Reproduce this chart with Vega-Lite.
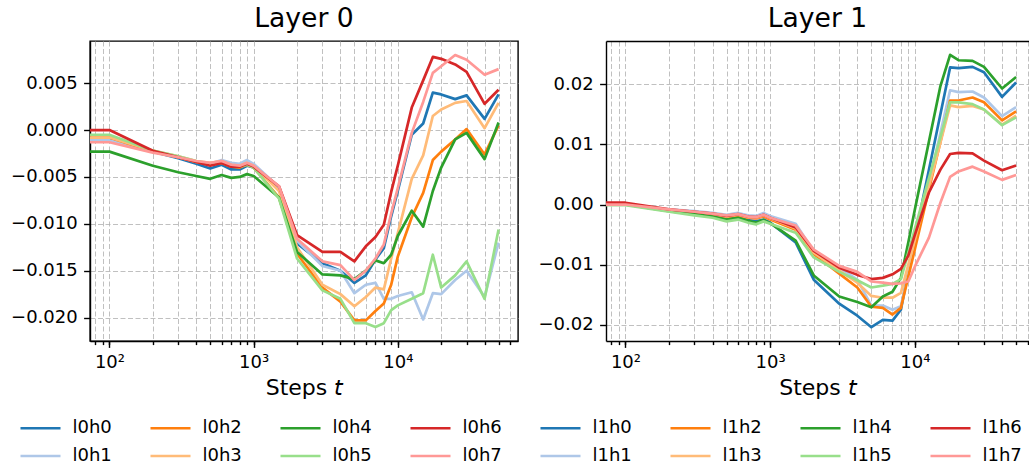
{
"$schema": "https://vega.github.io/schema/vega-lite/v6.json",
"padding": {"left": 9, "top": 5, "right": 0, "bottom": 0},
"background": "white",
"datasets": {
"layer0": [
{"s":"l0h0","t":50,"v":-0.001},{"s":"l0h0","t":100,"v":-0.001},{"s":"l0h0","t":200,"v":-0.0023},{"s":"l0h0","t":300,"v":-0.003},{"s":"l0h0","t":400,"v":-0.0036},{"s":"l0h0","t":500,"v":-0.0041},{"s":"l0h0","t":600,"v":-0.0037},{"s":"l0h0","t":700,"v":-0.0042},{"s":"l0h0","t":800,"v":-0.0042},{"s":"l0h0","t":900,"v":-0.0038},{"s":"l0h0","t":1000,"v":-0.004},{"s":"l0h0","t":1500,"v":-0.0062},{"s":"l0h0","t":2000,"v":-0.0121},{"s":"l0h0","t":3000,"v":-0.0142},{"s":"l0h0","t":4000,"v":-0.015},{"s":"l0h0","t":5000,"v":-0.0163},{"s":"l0h0","t":6000,"v":-0.0155},{"s":"l0h0","t":7000,"v":-0.0138},{"s":"l0h0","t":8000,"v":-0.0126},{"s":"l0h0","t":9000,"v":-0.0092},{"s":"l0h0","t":10000,"v":-0.0065},{"s":"l0h0","t":12500,"v":-0.0005},{"s":"l0h0","t":15000,"v":0.0007},{"s":"l0h0","t":17500,"v":0.004},{"s":"l0h0","t":20000,"v":0.0038},{"s":"l0h0","t":25000,"v":0.0033},{"s":"l0h0","t":30000,"v":0.0037},{"s":"l0h0","t":40000,"v":0.0012},{"s":"l0h0","t":50000,"v":0.0038},
{"s":"l0h1","t":50,"v":-0.0011},{"s":"l0h1","t":100,"v":-0.0011},{"s":"l0h1","t":200,"v":-0.0023},{"s":"l0h1","t":300,"v":-0.0029},{"s":"l0h1","t":400,"v":-0.0034},{"s":"l0h1","t":500,"v":-0.0036},{"s":"l0h1","t":600,"v":-0.0032},{"s":"l0h1","t":700,"v":-0.0035},{"s":"l0h1","t":800,"v":-0.0036},{"s":"l0h1","t":900,"v":-0.0032},{"s":"l0h1","t":1000,"v":-0.0036},{"s":"l0h1","t":1500,"v":-0.0061},{"s":"l0h1","t":2000,"v":-0.0118},{"s":"l0h1","t":3000,"v":-0.0145},{"s":"l0h1","t":4000,"v":-0.015},{"s":"l0h1","t":5000,"v":-0.0174},{"s":"l0h1","t":6000,"v":-0.0165},{"s":"l0h1","t":7000,"v":-0.0163},{"s":"l0h1","t":8000,"v":-0.018},{"s":"l0h1","t":9000,"v":-0.018},{"s":"l0h1","t":10000,"v":-0.0177},{"s":"l0h1","t":12500,"v":-0.0173},{"s":"l0h1","t":15000,"v":-0.0202},{"s":"l0h1","t":17500,"v":-0.0174},{"s":"l0h1","t":20000,"v":-0.0175},{"s":"l0h1","t":25000,"v":-0.016},{"s":"l0h1","t":30000,"v":-0.015},{"s":"l0h1","t":40000,"v":-0.0178},{"s":"l0h1","t":50000,"v":-0.012},
{"s":"l0h2","t":50,"v":-0.0008},{"s":"l0h2","t":100,"v":-0.0008},{"s":"l0h2","t":200,"v":-0.0023},{"s":"l0h2","t":300,"v":-0.0029},{"s":"l0h2","t":400,"v":-0.0034},{"s":"l0h2","t":500,"v":-0.0037},{"s":"l0h2","t":600,"v":-0.0035},{"s":"l0h2","t":700,"v":-0.0039},{"s":"l0h2","t":800,"v":-0.004},{"s":"l0h2","t":900,"v":-0.0037},{"s":"l0h2","t":1000,"v":-0.004},{"s":"l0h2","t":1500,"v":-0.0072},{"s":"l0h2","t":2000,"v":-0.0132},{"s":"l0h2","t":3000,"v":-0.0168},{"s":"l0h2","t":4000,"v":-0.0183},{"s":"l0h2","t":5000,"v":-0.0203},{"s":"l0h2","t":6000,"v":-0.0203},{"s":"l0h2","t":7000,"v":-0.0193},{"s":"l0h2","t":8000,"v":-0.0185},{"s":"l0h2","t":9000,"v":-0.0165},{"s":"l0h2","t":10000,"v":-0.0135},{"s":"l0h2","t":12500,"v":-0.0093},{"s":"l0h2","t":15000,"v":-0.0067},{"s":"l0h2","t":17500,"v":-0.0032},{"s":"l0h2","t":20000,"v":-0.0023},{"s":"l0h2","t":25000,"v":-0.001},{"s":"l0h2","t":30000,"v":0.0001},{"s":"l0h2","t":40000,"v":-0.0026},{"s":"l0h2","t":50000,"v":0.0005},
{"s":"l0h3","t":50,"v":-0.0008},{"s":"l0h3","t":100,"v":-0.0008},{"s":"l0h3","t":200,"v":-0.0022},{"s":"l0h3","t":300,"v":-0.0028},{"s":"l0h3","t":400,"v":-0.0033},{"s":"l0h3","t":500,"v":-0.0035},{"s":"l0h3","t":600,"v":-0.0033},{"s":"l0h3","t":700,"v":-0.0037},{"s":"l0h3","t":800,"v":-0.0038},{"s":"l0h3","t":900,"v":-0.0035},{"s":"l0h3","t":1000,"v":-0.0038},{"s":"l0h3","t":1500,"v":-0.0065},{"s":"l0h3","t":2000,"v":-0.0125},{"s":"l0h3","t":3000,"v":-0.0165},{"s":"l0h3","t":4000,"v":-0.0175},{"s":"l0h3","t":5000,"v":-0.0188},{"s":"l0h3","t":6000,"v":-0.0178},{"s":"l0h3","t":7000,"v":-0.0168},{"s":"l0h3","t":8000,"v":-0.017},{"s":"l0h3","t":9000,"v":-0.0137},{"s":"l0h3","t":10000,"v":-0.011},{"s":"l0h3","t":12500,"v":-0.0052},{"s":"l0h3","t":15000,"v":-0.0027},{"s":"l0h3","t":17500,"v":0.0015},{"s":"l0h3","t":20000,"v":0.0022},{"s":"l0h3","t":25000,"v":0.0029},{"s":"l0h3","t":30000,"v":0.0031},{"s":"l0h3","t":40000,"v":0.0002},{"s":"l0h3","t":50000,"v":0.0029},
{"s":"l0h4","t":50,"v":-0.0023},{"s":"l0h4","t":100,"v":-0.0023},{"s":"l0h4","t":200,"v":-0.0038},{"s":"l0h4","t":300,"v":-0.0045},{"s":"l0h4","t":400,"v":-0.0049},{"s":"l0h4","t":500,"v":-0.0052},{"s":"l0h4","t":600,"v":-0.0048},{"s":"l0h4","t":700,"v":-0.0051},{"s":"l0h4","t":800,"v":-0.005},{"s":"l0h4","t":900,"v":-0.0047},{"s":"l0h4","t":1000,"v":-0.0049},{"s":"l0h4","t":1500,"v":-0.0072},{"s":"l0h4","t":2000,"v":-0.013},{"s":"l0h4","t":3000,"v":-0.0154},{"s":"l0h4","t":4000,"v":-0.0155},{"s":"l0h4","t":5000,"v":-0.0159},{"s":"l0h4","t":6000,"v":-0.015},{"s":"l0h4","t":7000,"v":-0.0139},{"s":"l0h4","t":8000,"v":-0.0142},{"s":"l0h4","t":9000,"v":-0.0133},{"s":"l0h4","t":10000,"v":-0.0113},{"s":"l0h4","t":12500,"v":-0.0086},{"s":"l0h4","t":15000,"v":-0.0103},{"s":"l0h4","t":17500,"v":-0.0065},{"s":"l0h4","t":20000,"v":-0.004},{"s":"l0h4","t":25000,"v":-0.001},{"s":"l0h4","t":30000,"v":-0.0003},{"s":"l0h4","t":40000,"v":-0.0031},{"s":"l0h4","t":50000,"v":0.0008},
{"s":"l0h5","t":50,"v":-0.0005},{"s":"l0h5","t":100,"v":-0.0005},{"s":"l0h5","t":200,"v":-0.0022},{"s":"l0h5","t":300,"v":-0.0028},{"s":"l0h5","t":400,"v":-0.0033},{"s":"l0h5","t":500,"v":-0.0036},{"s":"l0h5","t":600,"v":-0.0034},{"s":"l0h5","t":700,"v":-0.0038},{"s":"l0h5","t":800,"v":-0.0039},{"s":"l0h5","t":900,"v":-0.0037},{"s":"l0h5","t":1000,"v":-0.004},{"s":"l0h5","t":1500,"v":-0.0073},{"s":"l0h5","t":2000,"v":-0.0137},{"s":"l0h5","t":3000,"v":-0.0171},{"s":"l0h5","t":4000,"v":-0.018},{"s":"l0h5","t":5000,"v":-0.0206},{"s":"l0h5","t":6000,"v":-0.0206},{"s":"l0h5","t":7000,"v":-0.021},{"s":"l0h5","t":8000,"v":-0.0206},{"s":"l0h5","t":9000,"v":-0.0192},{"s":"l0h5","t":10000,"v":-0.0187},{"s":"l0h5","t":12500,"v":-0.018},{"s":"l0h5","t":15000,"v":-0.0174},{"s":"l0h5","t":17500,"v":-0.0133},{"s":"l0h5","t":20000,"v":-0.0168},{"s":"l0h5","t":25000,"v":-0.0155},{"s":"l0h5","t":30000,"v":-0.014},{"s":"l0h5","t":40000,"v":-0.018},{"s":"l0h5","t":50000,"v":-0.0106},
{"s":"l0h6","t":50,"v":0.0},{"s":"l0h6","t":100,"v":0.0},{"s":"l0h6","t":200,"v":-0.0022},{"s":"l0h6","t":300,"v":-0.0029},{"s":"l0h6","t":400,"v":-0.0034},{"s":"l0h6","t":500,"v":-0.0038},{"s":"l0h6","t":600,"v":-0.0035},{"s":"l0h6","t":700,"v":-0.0039},{"s":"l0h6","t":800,"v":-0.0039},{"s":"l0h6","t":900,"v":-0.0036},{"s":"l0h6","t":1000,"v":-0.0039},{"s":"l0h6","t":1500,"v":-0.006},{"s":"l0h6","t":2000,"v":-0.0112},{"s":"l0h6","t":3000,"v":-0.013},{"s":"l0h6","t":4000,"v":-0.013},{"s":"l0h6","t":5000,"v":-0.014},{"s":"l0h6","t":6000,"v":-0.0124},{"s":"l0h6","t":7000,"v":-0.0114},{"s":"l0h6","t":8000,"v":-0.0101},{"s":"l0h6","t":9000,"v":-0.0066},{"s":"l0h6","t":10000,"v":-0.0038},{"s":"l0h6","t":12500,"v":0.0024},{"s":"l0h6","t":15000,"v":0.0053},{"s":"l0h6","t":17500,"v":0.0078},{"s":"l0h6","t":20000,"v":0.0076},{"s":"l0h6","t":25000,"v":0.007},{"s":"l0h6","t":30000,"v":0.0062},{"s":"l0h6","t":40000,"v":0.0028},{"s":"l0h6","t":50000,"v":0.0043},
{"s":"l0h7","t":50,"v":-0.0013},{"s":"l0h7","t":100,"v":-0.0013},{"s":"l0h7","t":200,"v":-0.0024},{"s":"l0h7","t":300,"v":-0.0029},{"s":"l0h7","t":400,"v":-0.0033},{"s":"l0h7","t":500,"v":-0.0035},{"s":"l0h7","t":600,"v":-0.0033},{"s":"l0h7","t":700,"v":-0.0037},{"s":"l0h7","t":800,"v":-0.0038},{"s":"l0h7","t":900,"v":-0.0035},{"s":"l0h7","t":1000,"v":-0.0038},{"s":"l0h7","t":1500,"v":-0.006},{"s":"l0h7","t":2000,"v":-0.0116},{"s":"l0h7","t":3000,"v":-0.014},{"s":"l0h7","t":4000,"v":-0.0144},{"s":"l0h7","t":5000,"v":-0.016},{"s":"l0h7","t":6000,"v":-0.015},{"s":"l0h7","t":7000,"v":-0.0137},{"s":"l0h7","t":8000,"v":-0.0122},{"s":"l0h7","t":9000,"v":-0.0089},{"s":"l0h7","t":10000,"v":-0.0062},{"s":"l0h7","t":12500,"v":-0.0003},{"s":"l0h7","t":15000,"v":0.003},{"s":"l0h7","t":17500,"v":0.0061},{"s":"l0h7","t":20000,"v":0.0068},{"s":"l0h7","t":25000,"v":0.008},{"s":"l0h7","t":30000,"v":0.0075},{"s":"l0h7","t":40000,"v":0.0059},{"s":"l0h7","t":50000,"v":0.0065}
],
"layer1": [
{"s":"l1h0","t":50,"v":0.0},{"s":"l1h0","t":100,"v":0.0},{"s":"l1h0","t":200,"v":-0.001},{"s":"l1h0","t":300,"v":-0.0015},{"s":"l1h0","t":400,"v":-0.0019},{"s":"l1h0","t":500,"v":-0.0024},{"s":"l1h0","t":600,"v":-0.0022},{"s":"l1h0","t":700,"v":-0.0026},{"s":"l1h0","t":800,"v":-0.0028},{"s":"l1h0","t":900,"v":-0.0025},{"s":"l1h0","t":1000,"v":-0.003},{"s":"l1h0","t":1500,"v":-0.0063},{"s":"l1h0","t":2000,"v":-0.0125},{"s":"l1h0","t":3000,"v":-0.0165},{"s":"l1h0","t":4000,"v":-0.0185},{"s":"l1h0","t":5000,"v":-0.0204},{"s":"l1h0","t":6000,"v":-0.0192},{"s":"l1h0","t":7000,"v":-0.0193},{"s":"l1h0","t":8000,"v":-0.0175},{"s":"l1h0","t":9000,"v":-0.011},{"s":"l1h0","t":10000,"v":-0.0055},{"s":"l1h0","t":12500,"v":0.0058},{"s":"l1h0","t":15000,"v":0.015},{"s":"l1h0","t":17500,"v":0.0228},{"s":"l1h0","t":20000,"v":0.0227},{"s":"l1h0","t":25000,"v":0.0229},{"s":"l1h0","t":30000,"v":0.022},{"s":"l1h0","t":40000,"v":0.0179},{"s":"l1h0","t":50000,"v":0.0203},
{"s":"l1h1","t":50,"v":0.0},{"s":"l1h1","t":100,"v":0.0},{"s":"l1h1","t":200,"v":-0.0008},{"s":"l1h1","t":300,"v":-0.0011},{"s":"l1h1","t":400,"v":-0.0014},{"s":"l1h1","t":500,"v":-0.0017},{"s":"l1h1","t":600,"v":-0.0014},{"s":"l1h1","t":700,"v":-0.0018},{"s":"l1h1","t":800,"v":-0.0019},{"s":"l1h1","t":900,"v":-0.0014},{"s":"l1h1","t":1000,"v":-0.0019},{"s":"l1h1","t":1500,"v":-0.0032},{"s":"l1h1","t":2000,"v":-0.0078},{"s":"l1h1","t":3000,"v":-0.0105},{"s":"l1h1","t":4000,"v":-0.0125},{"s":"l1h1","t":5000,"v":-0.0168},{"s":"l1h1","t":6000,"v":-0.0168},{"s":"l1h1","t":7000,"v":-0.0175},{"s":"l1h1","t":8000,"v":-0.0169},{"s":"l1h1","t":9000,"v":-0.0115},{"s":"l1h1","t":10000,"v":-0.0067},{"s":"l1h1","t":12500,"v":0.0036},{"s":"l1h1","t":15000,"v":0.0119},{"s":"l1h1","t":17500,"v":0.019},{"s":"l1h1","t":20000,"v":0.0187},{"s":"l1h1","t":25000,"v":0.0188},{"s":"l1h1","t":30000,"v":0.0178},{"s":"l1h1","t":40000,"v":0.0147},{"s":"l1h1","t":50000,"v":0.0162},
{"s":"l1h2","t":50,"v":0.0001},{"s":"l1h2","t":100,"v":0.0001},{"s":"l1h2","t":200,"v":-0.0009},{"s":"l1h2","t":300,"v":-0.0013},{"s":"l1h2","t":400,"v":-0.0017},{"s":"l1h2","t":500,"v":-0.0021},{"s":"l1h2","t":600,"v":-0.0018},{"s":"l1h2","t":700,"v":-0.0022},{"s":"l1h2","t":800,"v":-0.0023},{"s":"l1h2","t":900,"v":-0.002},{"s":"l1h2","t":1000,"v":-0.0025},{"s":"l1h2","t":1500,"v":-0.0042},{"s":"l1h2","t":2000,"v":-0.0082},{"s":"l1h2","t":3000,"v":-0.0115},{"s":"l1h2","t":4000,"v":-0.0138},{"s":"l1h2","t":5000,"v":-0.017},{"s":"l1h2","t":6000,"v":-0.0172},{"s":"l1h2","t":7000,"v":-0.0183},{"s":"l1h2","t":8000,"v":-0.0172},{"s":"l1h2","t":9000,"v":-0.012},{"s":"l1h2","t":10000,"v":-0.0074},{"s":"l1h2","t":12500,"v":0.0025},{"s":"l1h2","t":15000,"v":0.0104},{"s":"l1h2","t":17500,"v":0.0173},{"s":"l1h2","t":20000,"v":0.0173},{"s":"l1h2","t":25000,"v":0.0178},{"s":"l1h2","t":30000,"v":0.017},{"s":"l1h2","t":40000,"v":0.014},{"s":"l1h2","t":50000,"v":0.0155},
{"s":"l1h3","t":50,"v":0.0},{"s":"l1h3","t":100,"v":0.0},{"s":"l1h3","t":200,"v":-0.0009},{"s":"l1h3","t":300,"v":-0.0013},{"s":"l1h3","t":400,"v":-0.0016},{"s":"l1h3","t":500,"v":-0.002},{"s":"l1h3","t":600,"v":-0.0017},{"s":"l1h3","t":700,"v":-0.0021},{"s":"l1h3","t":800,"v":-0.0022},{"s":"l1h3","t":900,"v":-0.0018},{"s":"l1h3","t":1000,"v":-0.0023},{"s":"l1h3","t":1500,"v":-0.004},{"s":"l1h3","t":2000,"v":-0.008},{"s":"l1h3","t":3000,"v":-0.011},{"s":"l1h3","t":4000,"v":-0.013},{"s":"l1h3","t":5000,"v":-0.0152},{"s":"l1h3","t":6000,"v":-0.0155},{"s":"l1h3","t":7000,"v":-0.0155},{"s":"l1h3","t":8000,"v":-0.0147},{"s":"l1h3","t":9000,"v":-0.01},{"s":"l1h3","t":10000,"v":-0.0058},{"s":"l1h3","t":12500,"v":0.0031},{"s":"l1h3","t":15000,"v":0.0103},{"s":"l1h3","t":17500,"v":0.0165},{"s":"l1h3","t":20000,"v":0.0162},{"s":"l1h3","t":25000,"v":0.0164},{"s":"l1h3","t":30000,"v":0.0158},{"s":"l1h3","t":40000,"v":0.0133},{"s":"l1h3","t":50000,"v":0.0148},
{"s":"l1h4","t":50,"v":0.0},{"s":"l1h4","t":100,"v":0.0},{"s":"l1h4","t":200,"v":-0.0011},{"s":"l1h4","t":300,"v":-0.0016},{"s":"l1h4","t":400,"v":-0.002},{"s":"l1h4","t":500,"v":-0.0025},{"s":"l1h4","t":600,"v":-0.0022},{"s":"l1h4","t":700,"v":-0.0027},{"s":"l1h4","t":800,"v":-0.003},{"s":"l1h4","t":900,"v":-0.0026},{"s":"l1h4","t":1000,"v":-0.0031},{"s":"l1h4","t":1500,"v":-0.006},{"s":"l1h4","t":2000,"v":-0.0118},{"s":"l1h4","t":3000,"v":-0.0153},{"s":"l1h4","t":4000,"v":-0.0162},{"s":"l1h4","t":5000,"v":-0.0171},{"s":"l1h4","t":6000,"v":-0.0153},{"s":"l1h4","t":7000,"v":-0.0145},{"s":"l1h4","t":8000,"v":-0.0122},{"s":"l1h4","t":9000,"v":-0.0063},{"s":"l1h4","t":10000,"v":-0.0008},{"s":"l1h4","t":12500,"v":0.0105},{"s":"l1h4","t":15000,"v":0.0197},{"s":"l1h4","t":17500,"v":0.0249},{"s":"l1h4","t":20000,"v":0.024},{"s":"l1h4","t":25000,"v":0.0239},{"s":"l1h4","t":30000,"v":0.0229},{"s":"l1h4","t":40000,"v":0.0193},{"s":"l1h4","t":50000,"v":0.0212},
{"s":"l1h5","t":50,"v":-0.0001},{"s":"l1h5","t":100,"v":-0.0001},{"s":"l1h5","t":200,"v":-0.0012},{"s":"l1h5","t":300,"v":-0.0018},{"s":"l1h5","t":400,"v":-0.0022},{"s":"l1h5","t":500,"v":-0.0028},{"s":"l1h5","t":600,"v":-0.0025},{"s":"l1h5","t":700,"v":-0.003},{"s":"l1h5","t":800,"v":-0.0033},{"s":"l1h5","t":900,"v":-0.0028},{"s":"l1h5","t":1000,"v":-0.0032},{"s":"l1h5","t":1500,"v":-0.0047},{"s":"l1h5","t":2000,"v":-0.0088},{"s":"l1h5","t":3000,"v":-0.0112},{"s":"l1h5","t":4000,"v":-0.0126},{"s":"l1h5","t":5000,"v":-0.0138},{"s":"l1h5","t":6000,"v":-0.0135},{"s":"l1h5","t":7000,"v":-0.0132},{"s":"l1h5","t":8000,"v":-0.0124},{"s":"l1h5","t":9000,"v":-0.008},{"s":"l1h5","t":10000,"v":-0.004},{"s":"l1h5","t":12500,"v":0.0044},{"s":"l1h5","t":15000,"v":0.0112},{"s":"l1h5","t":17500,"v":0.017},{"s":"l1h5","t":20000,"v":0.017},{"s":"l1h5","t":25000,"v":0.0167},{"s":"l1h5","t":30000,"v":0.0158},{"s":"l1h5","t":40000,"v":0.0132},{"s":"l1h5","t":50000,"v":0.0145},
{"s":"l1h6","t":50,"v":0.0003},{"s":"l1h6","t":100,"v":0.0003},{"s":"l1h6","t":200,"v":-0.0008},{"s":"l1h6","t":300,"v":-0.0012},{"s":"l1h6","t":400,"v":-0.0015},{"s":"l1h6","t":500,"v":-0.0019},{"s":"l1h6","t":600,"v":-0.0016},{"s":"l1h6","t":700,"v":-0.002},{"s":"l1h6","t":800,"v":-0.0021},{"s":"l1h6","t":900,"v":-0.0017},{"s":"l1h6","t":1000,"v":-0.0022},{"s":"l1h6","t":1500,"v":-0.0038},{"s":"l1h6","t":2000,"v":-0.0077},{"s":"l1h6","t":3000,"v":-0.0105},{"s":"l1h6","t":4000,"v":-0.0117},{"s":"l1h6","t":5000,"v":-0.0124},{"s":"l1h6","t":6000,"v":-0.0122},{"s":"l1h6","t":7000,"v":-0.0116},{"s":"l1h6","t":8000,"v":-0.0107},{"s":"l1h6","t":9000,"v":-0.0085},{"s":"l1h6","t":10000,"v":-0.005},{"s":"l1h6","t":12500,"v":0.002},{"s":"l1h6","t":15000,"v":0.0058},{"s":"l1h6","t":17500,"v":0.0084},{"s":"l1h6","t":20000,"v":0.0086},{"s":"l1h6","t":25000,"v":0.0085},{"s":"l1h6","t":30000,"v":0.0073},{"s":"l1h6","t":40000,"v":0.0057},{"s":"l1h6","t":50000,"v":0.0065},
{"s":"l1h7","t":50,"v":0.0},{"s":"l1h7","t":100,"v":0.0},{"s":"l1h7","t":200,"v":-0.0008},{"s":"l1h7","t":300,"v":-0.0012},{"s":"l1h7","t":400,"v":-0.0015},{"s":"l1h7","t":500,"v":-0.0018},{"s":"l1h7","t":600,"v":-0.0016},{"s":"l1h7","t":700,"v":-0.002},{"s":"l1h7","t":800,"v":-0.0021},{"s":"l1h7","t":900,"v":-0.0017},{"s":"l1h7","t":1000,"v":-0.0022},{"s":"l1h7","t":1500,"v":-0.0035},{"s":"l1h7","t":2000,"v":-0.0075},{"s":"l1h7","t":3000,"v":-0.0102},{"s":"l1h7","t":4000,"v":-0.0112},{"s":"l1h7","t":5000,"v":-0.0128},{"s":"l1h7","t":6000,"v":-0.013},{"s":"l1h7","t":7000,"v":-0.0132},{"s":"l1h7","t":8000,"v":-0.0131},{"s":"l1h7","t":9000,"v":-0.0128},{"s":"l1h7","t":10000,"v":-0.0103},{"s":"l1h7","t":12500,"v":-0.0055},{"s":"l1h7","t":15000,"v":0.0003},{"s":"l1h7","t":17500,"v":0.0046},{"s":"l1h7","t":20000,"v":0.0055},{"s":"l1h7","t":25000,"v":0.0063},{"s":"l1h7","t":30000,"v":0.0055},{"s":"l1h7","t":40000,"v":0.0041},{"s":"l1h7","t":50000,"v":0.0049}
]
},
"spacing": 19,
"hconcat": [
{
"width": 428, "height": 300,
"title": {"text": "Layer 0"},
"data": {"name": "layer0"},
"layer": [
{"mark": {"type": "line", "clip": true, "strokeWidth": 2.7, "strokeJoin": "round"},
 "encoding": {
  "x": {"field": "t", "type": "quantitative", "scale": {"type": "log", "domain": [73.3, 68200], "nice": false},
        "axis": {"orient": "bottom", "values": [80,90,100,200,300,400,500,600,700,800,900,1000,2000,3000,4000,5000,6000,7000,8000,9000,10000,20000,30000,40000,50000,60000], "labels": false, "tickSize": 3.6, "grid": true, "title": null}},
  "y": {"field": "v", "type": "quantitative", "scale": {"domain": [-0.0225, 0.0095], "nice": false, "zero": false},
        "axis": {"orient": "left", "values": [-0.02,-0.015,-0.01,-0.005,0,0.005], "format": ".3f", "tickSize": 6.4, "labelPadding": 6.4, "grid": true, "title": null}},
  "color": {"field": "s", "type": "nominal",
            "scale": {"domain": ["l0h0","l0h2","l0h4","l0h6","l1h0","l1h2","l1h4","l1h6","l0h1","l0h3","l0h5","l0h7","l1h1","l1h3","l1h5","l1h7"],
                      "range": ["#1f77b4","#ff7f0e","#2ca02c","#d62728","#1f77b4","#ff7f0e","#2ca02c","#d62728","#aec7e8","#ffbb78","#98df8a","#ff9896","#aec7e8","#ffbb78","#98df8a","#ff9896"]},
            "legend": {"orient": "none", "legendX": -68, "legendY": 368.5, "direction": "horizontal", "columns": 8, "title": null, "symbolType": "M-1.18,0L1.18,0", "symbolSize": 1150, "symbolStrokeWidth": 2.7, "labelFontSize": 18, "labelOffset": 13.5, "columnPadding": 33, "rowPadding": 0, "padding": 0}}
 }},
{"mark": {"type": "point", "clip": true, "opacity": 0},
 "encoding": {
  "x": {"field": "t", "type": "quantitative",
        "axis": {"orient": "bottom", "values": [100, 1000, 10000], "labelExpr": "datum.value == 100 ? '10²' : datum.value == 1000 ? '10³' : '10⁴'", "tickSize": 6.4, "labelPadding": 6.4, "grid": false, "domain": false, "labelFlush": false, "title": "Steps 𝘵", "titlePadding": 6}},
  "y": {"field": "v", "type": "quantitative", "axis": null}
 }}
],
"resolve": {"axis": {"x": "independent", "y": "independent"}}
},
{
"width": 423, "height": 300,
"title": {"text": "Layer 1"},
"data": {"name": "layer1"},
"view": {"stroke": null},
"layer": [
{"mark": {"type": "line", "clip": true, "strokeWidth": 2.7, "strokeJoin": "round"},
 "encoding": {
  "x": {"field": "t", "type": "quantitative", "scale": {"type": "log", "domain": [73.4, 61400], "nice": false},
        "axis": {"orient": "bottom", "values": [80,90,100,200,300,400,500,600,700,800,900,1000,2000,3000,4000,5000,6000,7000,8000,9000,10000,20000,30000,40000,50000,60000], "labels": false, "tickSize": 3.6, "grid": true, "title": null}},
  "y": {"field": "v", "type": "quantitative", "scale": {"domain": [-0.0227, 0.0272], "nice": false, "zero": false},
        "axis": {"orient": "left", "values": [-0.02,-0.01,0,0.01,0.02], "format": ".2f", "tickSize": 6.4, "labelPadding": 6.4, "grid": true, "title": null, "domain": true}},
  "color": {"field": "s", "type": "nominal",
            "legend": {"orient": "none", "legendX": -68, "legendY": 368.5, "direction": "horizontal", "columns": 8, "title": null, "symbolType": "M-1.18,0L1.18,0", "symbolSize": 1150, "symbolStrokeWidth": 2.7, "labelFontSize": 18, "labelOffset": 13.5, "columnPadding": 33, "rowPadding": 0, "padding": 0}}
 }},
{"mark": {"type": "point", "clip": true, "opacity": 0},
 "encoding": {
  "x": {"field": "t", "type": "quantitative",
        "axis": {"orient": "bottom", "values": [100, 1000, 10000], "labelExpr": "datum.value == 100 ? '10²' : datum.value == 1000 ? '10³' : '10⁴'", "tickSize": 6.4, "labelPadding": 6.4, "grid": false, "domain": false, "labelFlush": false, "title": "Steps 𝘵", "titlePadding": 6}},
  "y": {"field": "v", "type": "quantitative", "axis": null}
 }},
{"mark": {"type": "point", "clip": true, "opacity": 0},
 "encoding": {
  "x": {"field": "t", "type": "quantitative",
        "axis": {"orient": "top", "labels": false, "ticks": false, "grid": false, "domain": true, "title": null}},
  "y": {"field": "v", "type": "quantitative", "axis": null}
 }}
],
"resolve": {"axis": {"x": "independent", "y": "independent"}}
}
],
"config": {
 "font": "DejaVu Sans",
 "view": {"stroke": "black", "strokeWidth": 1.4},
 "axis": {"domainColor": "black", "domainWidth": 1.4, "tickColor": "black", "tickWidth": 1.4, "labelColor": "black", "labelFontSize": 18, "labelFont": "DejaVu Sans", "titleFont": "DejaVu Sans", "titleFontSize": 22, "titleFontWeight": "normal", "titleColor": "black", "gridColor": "#b0b0b0", "gridDash": [5, 2.5], "gridWidth": 0.8, "labelOverlap": false},
 "legend": {"labelFont": "DejaVu Sans", "labelColor": "black"},
 "title": {"fontSize": 26.6, "fontWeight": "normal", "color": "black", "font": "DejaVu Sans", "offset": 8},
 "line": {"strokeCap": "butt"}
}
}
